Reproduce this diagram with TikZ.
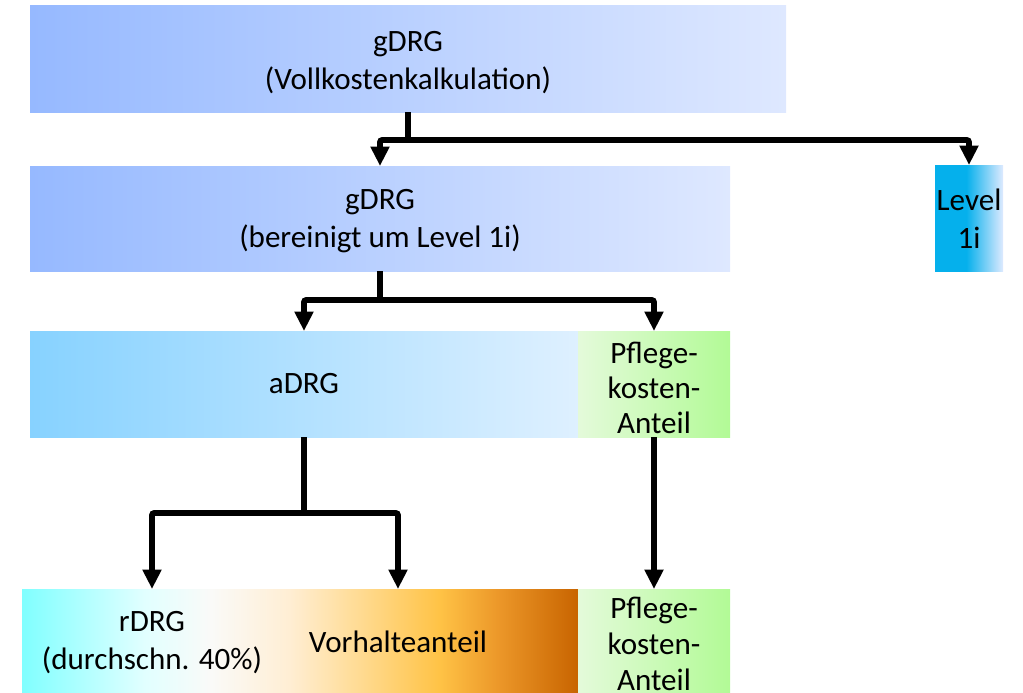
\documentclass[tikz,border=0pt]{standalone}
\usepackage{fontspec}
\setmainfont{Carlito}
\usetikzlibrary{arrows.meta}

% colour ramps for the bars
\definecolor{gA}{RGB}{150,185,255}
\definecolor{gB}{RGB}{222,232,255}
\definecolor{aA}{RGB}{135,210,255}
\definecolor{aB}{RGB}{222,240,255}
\definecolor{pA}{RGB}{228,250,218}
\definecolor{pB}{RGB}{178,250,150}
\definecolor{lvA}{RGB}{5,176,236}
\definecolor{lvB}{RGB}{222,234,255}

\pgfdeclarehorizontalshading{levelshade}{100bp}{
  color(0bp)=(lvA); color(25bp)=(lvA); color(48bp)=(lvA);
  color(75bp)=(lvB); color(100bp)=(lvB)}
\pgfdeclarehorizontalshading{barshade}{100bp}{
  color(0bp)=(rgb,255:red,128;green,255;blue,255);
  color(25bp)=(rgb,255:red,128;green,255;blue,255);
  color(36bp)=(rgb,255:red,225;green,255;blue,255);
  color(42bp)=(rgb,255:red,250;green,250;blue,248);
  color(49bp)=(rgb,255:red,255;green,238;blue,212);
  color(55bp)=(rgb,255:red,255;green,220;blue,150);
  color(62.5bp)=(rgb,255:red,255;green,195;blue,70);
  color(68bp)=(rgb,255:red,235;green,150;blue,40);
  color(75bp)=(rgb,255:red,200;green,100;blue,0);
  color(100bp)=(rgb,255:red,200;green,100;blue,0)}

\tikzset{
  box/.style={rectangle, inner sep=0pt, outer sep=0pt},
  label/.style={inner sep=0pt, align=center,
    font=\fontsize{23.3}{28.5}\selectfont},
  narrowlabel/.style={label, font=\fontsize{23.3}{26}\selectfont},
  link/.style={line width=4.2pt, rounded corners=1.5pt},
  arrowlink/.style={link, -{Triangle[width=13.5pt,length=14.5pt]}}
}

\begin{document}
\begin{tikzpicture}[x=0.75pt, y=-0.75pt]
\useasboundingbox (0,0) rectangle (1023,692);

% shaded boxes
\node[box, minimum width=567pt, minimum height=79.5pt,
      left color=gA, right color=gB] (g1) at (408,59) {};
\node[box, minimum width=525pt, minimum height=78.75pt,
      left color=gA, right color=gB] (g2) at (380,218.5) {};
\node[box, minimum width=51pt, minimum height=79.5pt,
      shading=levelshade] (lvl) at (969,218) {};
\node[box, minimum width=411pt, minimum height=79.5pt,
      left color=aA, right color=aB] (adrg) at (304,384) {};
\node[box, minimum width=114pt, minimum height=79.5pt,
      left color=pA, right color=pB] (pf1) at (654,384) {};
\node[box, minimum width=417pt, minimum height=77.25pt,
      shading=barshade] (bar) at (300,640.5) {};
\node[box, minimum width=114pt, minimum height=77.25pt,
      left color=pA, right color=pB] (pf2) at (654,640.5) {};

% texts
\node[label] (g1t) at (408,63) {gDRG\\(Vollkostenkalkulation)};
\node[label] (g2t) at (380,221.5) {gDRG\\(bereinigt um Level 1i)};
\node[label] (lvlt) at (969,219) {Level\\1i};
\node[label] (adrgt) at (304,384) {aDRG};
\node[narrowlabel] (pf1t) at (654,388) {Pflege-\\kosten-\\Anteil};
\node[label, font=\fontsize{23.3}{27}\selectfont] (pf2t) at (654,644)
  {Pflege-\\kosten-\\Anteil};
\node[label] (rdrg) at (152,643) {rDRG\\(durchschn. 40\%)};
\node[label] (vorh) at (398,642) {Vorhalteanteil};

% junctions and entry points
\coordinate (j1) at (408,140);
\coordinate (j2) at (380,300);
\coordinate (j3) at (304,513);
\coordinate (rin) at (rdrg |- bar.north);
\coordinate (vin) at (vorh |- bar.north);

% connectors
\draw[link] (g1.south) -- (j1);
\draw[arrowlink] (j1) -| (g2.north);
\draw[arrowlink] (j1) -| (lvl.north);
\draw[link] (g2.south) -- (j2);
\draw[arrowlink] (j2) -| (adrg.north);
\draw[arrowlink] (j2) -| (pf1.north);
\draw[link] (adrg.south) -- (j3);
\draw[arrowlink] (j3) -| (rin);
\draw[arrowlink] (j3) -| (vin);
\draw[arrowlink] (pf1.south) -- (pf2.north);
\end{tikzpicture}
\end{document}
